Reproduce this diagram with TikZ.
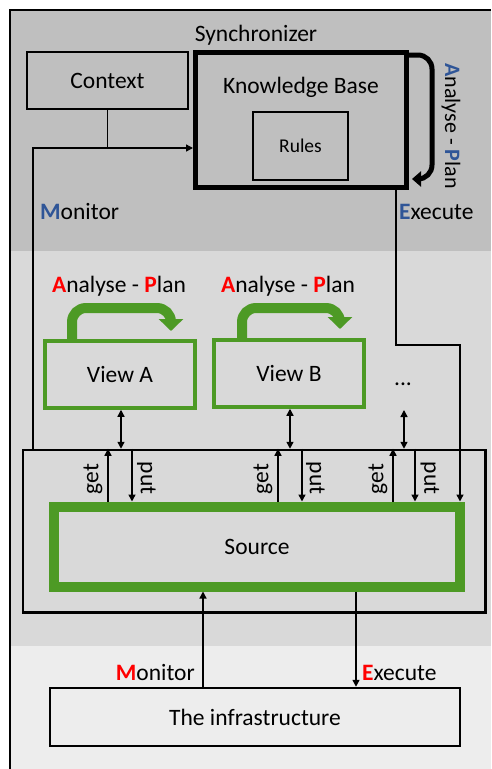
\documentclass[tikz,border=0pt]{standalone}
\usepackage{fontspec}
\setmainfont{Carlito}
\usetikzlibrary{arrows.meta}
\definecolor{bgtop}{HTML}{BFBFBF}
\definecolor{bgmid}{HTML}{D9D9D9}
\definecolor{bgbot}{HTML}{EDEDED}
\definecolor{apblue}{HTML}{2F5597}
\definecolor{apred}{HTML}{FF0000}
\definecolor{vgreen}{HTML}{4D9A25}
\newcommand{\bl}[1]{\textcolor{apblue}{\textbf{#1}}}
\newcommand{\rd}[1]{\textcolor{apred}{\textbf{#1}}}
\begin{document}
\begin{tikzpicture}[x=1pt,y=-1pt,
  every node/.style={font=\fontsize{23.5}{27}\selectfont, inner sep=0pt},
  plainbox/.style={draw, line width=1.6pt},
  viewbox/.style={draw=vgreen, line width=3.5pt, fill=bgmid, minimum width=150pt, minimum height=67pt},
  thinline/.style={line width=1.4pt},
  thinarrow/.style={line width=1.4pt, -{Triangle[width=7pt,length=7pt]}},
  dblarrow/.style={line width=1.4pt, {Triangle[width=7pt,length=7pt]}-{Triangle[width=7pt,length=7pt]}},
  greenarrow/.style={draw=vgreen, line width=10pt, rounded corners=14pt, -{Triangle[width=24pt,length=12pt]}},
  blackloop/.style={line width=5pt, rounded corners=14pt, -{Triangle[width=15pt,length=9pt]}}
]
\useasboundingbox (0,0) rectangle (491,769);
% backgrounds
\fill[bgtop] (9,9) rectangle (491,251);
\fill[bgmid] (9,251) rectangle (491,646);
\fill[bgbot] (9,646) rectangle (491,769);
\draw[line width=1.5pt] (491,9.75) -| (9.75,769);

% top region
\node[anchor=base] (sync) at (256,41) {Synchronizer};
\node[plainbox, fill=bgtop, minimum width=161pt, minimum height=57pt] (ctx) at (107.5,80.5) {Context};
\node[draw, line width=5pt, fill=bgtop, minimum width=211pt, minimum height=135pt] (kb) at (301,120) {};
\node[anchor=base] (kbt) at (301,93) {Knowledge Base};
\node[plainbox, minimum width=95pt, minimum height=68pt, font=\fontsize{19.5}{22}\selectfont] (rules) at (300.5,146) {Rules};
\node[anchor=base west] (mon1) at (40,219) {\bl{M}onitor};
\node[anchor=base west] (ex1) at (399,219) {\bl{E}xecute};
\node[rotate=-90, font=\fontsize{22}{25}\selectfont] (ap0) at (451,126) {\bl{A}nalyse - \bl{P}lan};

\coordinate (apa) at (432,55);
\coordinate (apb) at (432,179);
\draw[blackloop] (kb.east |- apa) -- (apa) -- (apb) -- ([xshift=3pt]kb.east |- apb);

% middle region
\node[draw, line width=2.5pt, minimum width=462.5pt, minimum height=162.5pt] (hub) at (254.25,531.25) {};
\node[draw=vgreen, line width=10pt, minimum width=406pt, minimum height=80pt] (src) at (257,546.5) {Source};

\node[viewbox] (va) at (120,374.5) {View A};
\node[viewbox] (vb) at (289,373.5) {View B};
\node[anchor=base] (dots) at (403,385) {...};
\node[anchor=base] (apA) at (119,292) {\rd{A}nalyse - \rd{P}lan};
\node[anchor=base] (apB) at (288,292) {\rd{A}nalyse - \rd{P}lan};

\coordinate (ga1) at (72,308);
\coordinate (ga2) at (171,308);
\coordinate (ga3) at (171,331);
\draw[greenarrow] (va.north -| ga1) -- (ga1) -- (ga2) -- (ga3);
\coordinate (gb1) at (242,308);
\coordinate (gb2) at (340,308);
\coordinate (gb3) at (340,329);
\draw[greenarrow] (vb.north -| gb1) -- (gb1) -- (gb2) -- (gb3);

% monitor / execute connectors of synchronizer
\coordinate (mjoin) at (33,148);
\draw[thinline] (ctx.south) -- (ctx.south |- mjoin);
\draw[thinarrow] (hub.north -| mjoin) -- (mjoin) -- (mjoin -| kb.west);
\coordinate (ex) at (396,345);
\coordinate (exr) at (460,345);
\draw[thinarrow] (kb.south -| ex) -- (ex) -- (exr) -- (src.north -| exr);

% view <-> hub
\coordinate (d1) at (121,0);
\coordinate (d2) at (290,0);
\coordinate (d3) at (404,410);
\draw[dblarrow] (va.south -| d1) -- (hub.north -| d1);
\draw[dblarrow] (vb.south -| d2) -- (hub.north -| d2);
\draw[dblarrow] (d3) -- (hub.north -| d3);

% get / put
\coordinate (g1) at (108,0);
\coordinate (p1) at (132,0);
\coordinate (g2) at (278,0);
\coordinate (p2) at (302,0);
\coordinate (g3) at (393,0);
\coordinate (p3) at (415,0);
\draw[thinarrow] (src.north -| g1) -- (hub.north -| g1);
\draw[thinarrow] (hub.north -| p1) -- (src.north -| p1);
\draw[thinarrow] (src.north -| g2) -- (hub.north -| g2);
\draw[thinarrow] (hub.north -| p2) -- (src.north -| p2);
\draw[thinarrow] (src.north -| g3) -- (hub.north -| g3);
\draw[thinarrow] (hub.north -| p3) -- (src.north -| p3);
\node[rotate=90] (lg1) at (93,479) {get};
\node[rotate=-90] (lp1) at (146.5,478) {put};
\node[rotate=90] (lg2) at (263,479) {get};
\node[rotate=-90] (lp2) at (315.5,478) {put};
\node[rotate=90] (lg3) at (378,479) {get};
\node[rotate=-90] (lp3) at (430,478) {put};

% bottom region
\node[draw, line width=2.5pt, fill=bgbot, minimum width=410pt, minimum height=58pt] (inf) at (255,717) {The infrastructure};
\coordinate (m2) at (203,0);
\coordinate (e2) at (356,0);
\draw[thinarrow] (inf.north -| m2) -- (src.south -| m2);
\draw[thinarrow] (src.south -| e2) -- (inf.north -| e2);
\node[anchor=base east] (mon2) at (195,680) {\rd{M}onitor};
\node[anchor=base west] (ex2) at (362,680) {\rd{E}xecute};
\end{tikzpicture}
\end{document}
